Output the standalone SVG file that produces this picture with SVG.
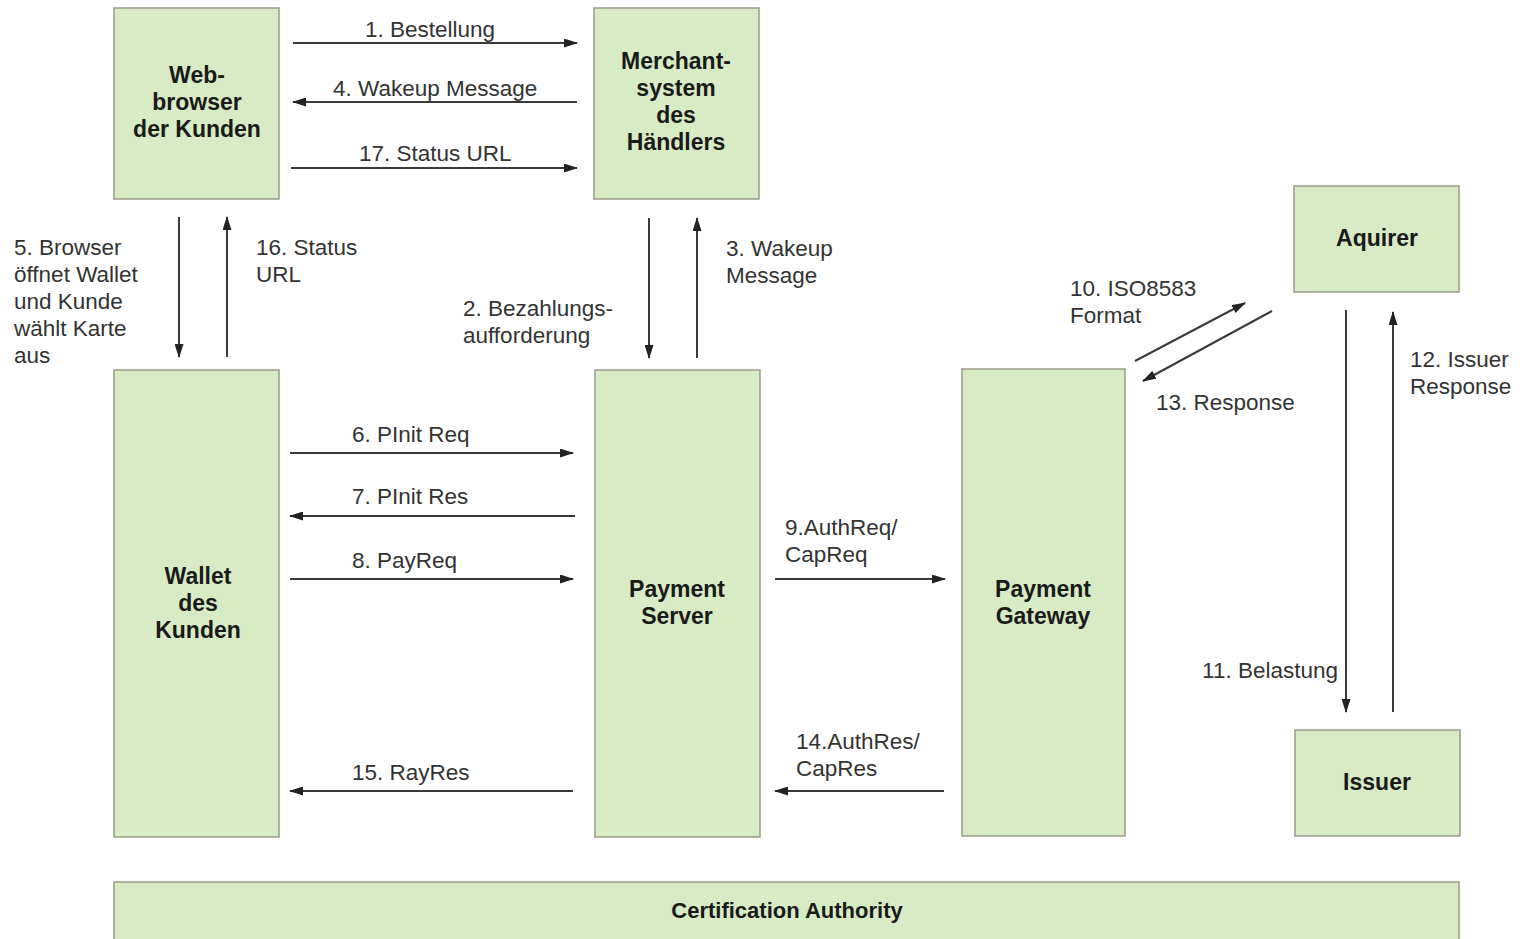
<svg xmlns="http://www.w3.org/2000/svg" width="1520" height="939" viewBox="0 0 1520 939">
<defs>
<style>
.box{fill:#d7ecc4;stroke:#9a9a8a;stroke-width:1.5}
.nt{font-family:"Liberation Sans",Arial,sans-serif;font-size:23px;font-weight:bold;fill:#1a1a1a;text-anchor:middle}
.lb{font-family:"Liberation Sans",Arial,sans-serif;font-size:22.5px;fill:#333}
.cn{stroke:#3a3a3a;stroke-width:2;fill:none;marker-end:url(#ah)}
</style>
<marker id="ah" viewBox="0 0 14 9" refX="13" refY="4.5" markerWidth="14" markerHeight="9" markerUnits="userSpaceOnUse" orient="auto">
<path d="M0,0 L14,4.5 L0,9 z" fill="#222"/>
</marker>
</defs>
<rect width="1520" height="939" fill="#fff"/>
<g id="webbrowser">
<rect class="box" x="114" y="8" width="165" height="191"/>
<text class="nt" x="197" y="83">Web-</text>
<text class="nt" x="197" y="110">browser</text>
<text class="nt" x="197" y="137">der Kunden</text>
</g>
<g id="merchant">
<rect class="box" x="594" y="8" width="165" height="191"/>
<text class="nt" x="676" y="69">Merchant-</text>
<text class="nt" x="676" y="96">system</text>
<text class="nt" x="676" y="123">des</text>
<text class="nt" x="676" y="150">Händlers</text>
</g>
<g id="wallet">
<rect class="box" x="114" y="370" width="165" height="467"/>
<text class="nt" x="198" y="584">Wallet</text>
<text class="nt" x="198" y="611">des</text>
<text class="nt" x="198" y="638">Kunden</text>
</g>
<g id="paymentserver">
<rect class="box" x="595" y="370" width="165" height="467"/>
<text class="nt" x="677" y="597">Payment</text>
<text class="nt" x="677" y="624">Server</text>
</g>
<g id="paymentgateway">
<rect class="box" x="962" y="369" width="163" height="467"/>
<text class="nt" x="1043" y="597">Payment</text>
<text class="nt" x="1043" y="624">Gateway</text>
</g>
<g id="aquirer">
<rect class="box" x="1294" y="186" width="165" height="106"/>
<text class="nt" x="1377" y="246">Aquirer</text>
</g>
<g id="issuer">
<rect class="box" x="1295" y="730" width="165" height="106"/>
<text class="nt" x="1377" y="790">Issuer</text>
</g>
<g id="ca">
<rect class="box" x="114" y="882" width="1345" height="70"/>
<text class="nt" x="787" y="918" style="font-size:22px">Certification Authority</text>
</g>
<g id="connectors">
<line class="cn" x1="293" y1="43" x2="577" y2="43"/>
<line class="cn" x1="577" y1="102" x2="293" y2="102"/>
<line class="cn" x1="291" y1="168" x2="577" y2="168"/>
<line class="cn" x1="179" y1="217" x2="179" y2="357"/>
<line class="cn" x1="227" y1="357" x2="227" y2="217"/>
<line class="cn" x1="649" y1="218" x2="649" y2="358"/>
<line class="cn" x1="697" y1="358" x2="697" y2="218"/>
<line class="cn" x1="290" y1="453" x2="573" y2="453"/>
<line class="cn" x1="575" y1="516" x2="290" y2="516"/>
<line class="cn" x1="290" y1="579" x2="573" y2="579"/>
<line class="cn" x1="775" y1="579" x2="945" y2="579"/>
<line class="cn" x1="944" y1="791" x2="775" y2="791"/>
<line class="cn" x1="573" y1="791" x2="290" y2="791"/>
<line class="cn" x1="1135" y1="361" x2="1245" y2="303"/>
<line class="cn" x1="1272" y1="311" x2="1143" y2="381"/>
<line class="cn" x1="1346" y1="310" x2="1346" y2="712"/>
<line class="cn" x1="1393" y1="712" x2="1393" y2="312"/>
<g class="lb">
<text x="365" y="37">1. Bestellung</text>
<text x="333" y="96">4. Wakeup Message</text>
<text x="359" y="161">17. Status URL</text>
<text x="14" y="255">5. Browser</text>
<text x="14" y="282">öffnet Wallet</text>
<text x="14" y="309">und Kunde</text>
<text x="14" y="336">wählt Karte</text>
<text x="14" y="363">aus</text>
<text x="256" y="255">16. Status</text>
<text x="256" y="282">URL</text>
<text x="726" y="256">3. Wakeup</text>
<text x="726" y="283">Message</text>
<text x="463" y="316">2. Bezahlungs-</text>
<text x="463" y="343">aufforderung</text>
<text x="352" y="442">6. PInit Req</text>
<text x="352" y="504">7. PInit Res</text>
<text x="352" y="568">8. PayReq</text>
<text x="785" y="535">9.AuthReq/</text>
<text x="785" y="562">CapReq</text>
<text x="796" y="749">14.AuthRes/</text>
<text x="796" y="776">CapRes</text>
<text x="352" y="780">15. RayRes</text>
<text x="1070" y="296">10. ISO8583</text>
<text x="1070" y="323">Format</text>
<text x="1156" y="410">13. Response</text>
<text x="1338" y="678" text-anchor="end">11. Belastung</text>
<text x="1410" y="367">12. Issuer</text>
<text x="1410" y="394">Response</text>
</g>
</g>
</svg>
